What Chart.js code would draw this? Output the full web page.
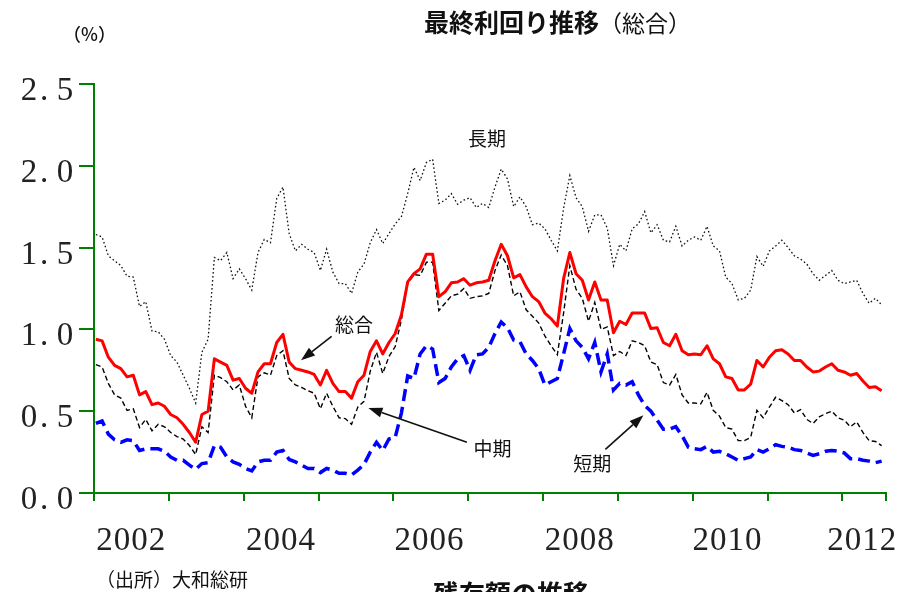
<!DOCTYPE html>
<html lang="ja">
<head>
<meta charset="utf-8">
<title>最終利回り推移（総合）</title>
<script src="https://cdn.jsdelivr.net/npm/chart.js@4.4.1/dist/chart.umd.min.js"></script>
<style>
  html,body{margin:0;padding:0;background:#fff;overflow:hidden}
  #wrap{position:relative;width:913px;height:592px;font-family:"Noto Sans CJK JP",sans-serif;color:#111}
  #wrap canvas{position:absolute;left:0;top:0}
  .txt{position:absolute;white-space:nowrap;line-height:1}
  #title{left:424px;top:9px;font-size:25px}
  #title b{font-weight:700}
  #title span{font-weight:400;font-size:23px}
  #unit{left:63px;top:24px;font-size:18px;font-weight:500}
  #source{left:96px;top:569px;font-size:19px}
  #next{left:433px;top:580px;font-size:26px;font-weight:700}
</style>
</head>
<body>
<div id="wrap">
  <canvas id="chart" width="913" height="592"></canvas>
  <div class="txt" id="title"><b>最終利回り推移</b><span>（総合）</span></div>
  <div class="txt" id="unit">（%）</div>
  <div class="txt" id="source">（出所）大和総研</div>
  <div class="txt" id="next">残存額の推移</div>
</div>
<script>
// 月次データ 2002年1月〜2012年7月 (%)
const yieldTotal = [
  0.94,0.93,0.83,0.78,0.76,0.71,0.72,0.60,0.62,0.54,
  0.55,0.53,0.48,0.46,0.42,0.37,0.31,0.48,0.50,0.82,
  0.80,0.78,0.69,0.70,0.64,0.61,0.74,0.79,0.79,0.92,
  0.97,0.80,0.76,0.75,0.74,0.725,0.66,0.75,0.67,0.62,
  0.62,0.58,0.68,0.72,0.865,0.93,0.85,0.92,0.975,1.09,
  1.29,1.34,1.37,1.46,1.46,1.20,1.23,1.285,1.29,1.31,
  1.27,1.285,1.29,1.30,1.42,1.52,1.45,1.315,1.335,1.26,
  1.20,1.17,1.10,1.065,1.02,1.31,1.47,1.34,1.30,1.18,
  1.29,1.18,1.18,0.98,1.05,1.03,1.10,1.10,1.10,1.005,
  1.01,0.92,0.90,0.97,0.87,0.845,0.85,0.845,0.90,0.82,
  0.79,0.71,0.70,0.63,0.63,0.665,0.81,0.77,0.83,0.87,
  0.875,0.85,0.81,0.81,0.77,0.74,0.745,0.77,0.79,0.75,
  0.74,0.72,0.73,0.685,0.645,0.65,0.625
];
const yieldMid = [
  0.785,0.77,0.67,0.60,0.58,0.505,0.515,0.40,0.45,0.38,
  0.42,0.405,0.37,0.345,0.33,0.29,0.235,0.405,0.37,0.72,
  0.705,0.68,0.63,0.66,0.53,0.46,0.71,0.735,0.72,0.84,
  0.87,0.70,0.66,0.645,0.625,0.61,0.515,0.61,0.53,0.46,
  0.455,0.42,0.525,0.56,0.745,0.86,0.73,0.835,0.895,1.06,
  1.28,1.335,1.33,1.41,1.41,1.115,1.16,1.205,1.215,1.25,
  1.19,1.20,1.205,1.22,1.36,1.455,1.39,1.205,1.23,1.12,
  1.08,1.04,0.96,0.90,0.845,1.10,1.39,1.245,1.19,1.05,
  1.165,1.00,1.015,0.84,0.865,0.84,0.93,0.92,0.90,0.80,
  0.785,0.675,0.66,0.725,0.60,0.55,0.55,0.545,0.615,0.505,
  0.47,0.40,0.39,0.32,0.32,0.34,0.505,0.46,0.525,0.585,
  0.565,0.54,0.49,0.51,0.45,0.425,0.465,0.485,0.50,0.46,
  0.445,0.405,0.435,0.37,0.32,0.315,0.29
];
const yieldShort = [
  0.425,0.44,0.36,0.325,0.31,0.325,0.32,0.26,0.27,0.27,
  0.27,0.255,0.22,0.20,0.20,0.17,0.145,0.18,0.185,0.29,
  0.28,0.22,0.19,0.175,0.15,0.135,0.19,0.20,0.20,0.25,
  0.26,0.205,0.19,0.17,0.15,0.15,0.125,0.15,0.14,0.12,
  0.12,0.11,0.14,0.175,0.25,0.31,0.26,0.33,0.34,0.49,
  0.715,0.70,0.85,0.90,0.88,0.675,0.70,0.77,0.82,0.84,
  0.75,0.845,0.85,0.89,0.975,1.045,1.01,0.935,0.925,0.85,
  0.81,0.76,0.66,0.68,0.70,0.85,1.005,0.93,0.89,0.82,
  0.92,0.74,0.85,0.63,0.67,0.66,0.68,0.60,0.535,0.50,
  0.445,0.39,0.39,0.405,0.35,0.28,0.27,0.265,0.285,0.25,
  0.255,0.24,0.22,0.20,0.21,0.22,0.265,0.25,0.27,0.295,
  0.285,0.28,0.265,0.26,0.245,0.23,0.24,0.255,0.26,0.255,
  0.245,0.21,0.21,0.20,0.195,0.185,0.195
];
const yieldLong = [
  1.58,1.565,1.45,1.42,1.39,1.325,1.32,1.14,1.17,0.99,
  0.985,0.94,0.84,0.80,0.72,0.64,0.55,0.86,0.94,1.44,
  1.42,1.47,1.31,1.37,1.31,1.24,1.47,1.55,1.53,1.80,
  1.87,1.585,1.48,1.52,1.49,1.47,1.36,1.49,1.35,1.28,
  1.28,1.22,1.35,1.40,1.53,1.61,1.525,1.585,1.645,1.69,
  1.83,1.99,1.91,2.02,2.04,1.77,1.79,1.83,1.765,1.79,
  1.805,1.745,1.77,1.745,1.87,1.98,1.92,1.75,1.81,1.75,
  1.64,1.65,1.615,1.545,1.48,1.74,1.94,1.805,1.75,1.60,
  1.70,1.70,1.62,1.39,1.52,1.48,1.615,1.645,1.72,1.59,
  1.64,1.545,1.535,1.63,1.51,1.545,1.565,1.545,1.63,1.51,
  1.48,1.32,1.28,1.18,1.19,1.24,1.445,1.385,1.48,1.51,
  1.545,1.50,1.45,1.43,1.40,1.34,1.30,1.33,1.36,1.30,
  1.28,1.29,1.30,1.22,1.16,1.19,1.15
];

// 軸 (x = 2002年1月からの月数)
const yTicks = [0, 0.5, 1.0, 1.5, 2.0, 2.5];
const yearTicks = [-0.3, 11.7, 23.7, 35.7, 47.7, 59.7, 71.7, 83.7, 95.7, 107.7, 119.7, 126.7];
const yearLabels = ['2002', '2004', '2006', '2008', '2010', '2012'];
const yearLabelPos = [5.6, 29.6, 53.4, 77.5, 101.2, 122.8];

// 注記 [文字, x(月), y(%)] と矢印 [始点x, 始点y, 先端x, 先端y]
const notes = [['長期', 62.7, 2.168], ['総合', 41.4, 1.03], ['中期', 63.6, 0.27], ['短期', 79.6, 0.178]];
const arrows = [[37.8, 0.958, 32.9, 0.811], [59.5, 0.31, 43.7, 0.52], [81.7, 0.267, 87.8, 0.475]];

const GREEN = '#008000';

function toXY(arr){ return arr.map((v, i) => ({x: i, y: v})); }

const textPlugin = {
  id: 'textPlugin',
  afterDraw(chart){
    const ctx = chart.ctx;
    const xs = chart.scales.x, ys = chart.scales.y;
    ctx.save();
    // 目盛り数字
    ctx.fillStyle = '#222';
    ctx.font = '33px "Liberation Serif", serif';
    ctx.textAlign = 'center';
    ctx.textBaseline = 'alphabetic';
    yTicks.forEach(v => {
      const s = v.toFixed(1);
      const py = ys.getPixelForValue(v) + 16;
      ctx.fillText(s[0], ys.right - 65, py);
      ctx.fillText('.', ys.right - 50, py);
      ctx.fillText(s[2], ys.right - 29, py);
    });
    yearLabels.forEach((s, k) => {
      const cx = xs.getPixelForValue(yearLabelPos[k]);
      const py = xs.top + 57;
      [-26.25, -8.75, 8.75, 26.25].forEach((o, j) => ctx.fillText(s[j], cx + o, py));
    });
    // 注記
    ctx.fillStyle = '#111';
    ctx.font = '19px "Noto Sans CJK JP", sans-serif';
    ctx.textBaseline = 'middle';
    notes.forEach(n => ctx.fillText(n[0], xs.getPixelForValue(n[1]), ys.getPixelForValue(n[2])));
    ctx.strokeStyle = '#111';
    ctx.lineWidth = 1.6;
    arrows.forEach(a => {
      const x1 = xs.getPixelForValue(a[0]), y1 = ys.getPixelForValue(a[1]);
      const x2 = xs.getPixelForValue(a[2]), y2 = ys.getPixelForValue(a[3]);
      const ang = Math.atan2(y2 - y1, x2 - x1);
      const hl = 14, hw = 5;
      const bx = x2 - hl * Math.cos(ang), by = y2 - hl * Math.sin(ang);
      ctx.beginPath(); ctx.moveTo(x1, y1); ctx.lineTo(bx, by); ctx.stroke();
      ctx.beginPath();
      ctx.moveTo(x2, y2);
      ctx.lineTo(bx + hw * Math.sin(ang), by - hw * Math.cos(ang));
      ctx.lineTo(bx - hw * Math.sin(ang), by + hw * Math.cos(ang));
      ctx.closePath(); ctx.fill();
    });
    ctx.restore();
  }
};

new Chart(document.getElementById('chart'), {
  type: 'line',
  data: {
    datasets: [
      {label: '総合', data: toXY(yieldTotal), borderColor: '#ff0000', borderWidth: 3, pointRadius: 0, tension: 0, borderJoinStyle: 'round'},
      {label: '中期', data: toXY(yieldMid), borderColor: '#000', borderWidth: 1.4, borderDash: [5, 3], pointRadius: 0, tension: 0},
      {label: '短期', data: toXY(yieldShort), borderColor: '#0000ff', borderWidth: 3.5, borderDash: [12, 6], pointRadius: 0, tension: 0},
      {label: '長期', data: toXY(yieldLong), borderColor: '#111', borderWidth: 1.3, borderDash: [1.6, 2.4], pointRadius: 0, tension: 0}
    ]
  },
  options: {
    responsive: false,
    devicePixelRatio: 1,
    animation: false,
    events: [],
    layout: {padding: {left: 0, top: 84, right: 27, bottom: 0}},
    plugins: {legend: {display: false}, tooltip: {enabled: false}, title: {display: false}},
    scales: {
      x: {
        type: 'linear',
        min: -0.3,
        max: 126.7,
        afterBuildTicks: s => { s.ticks = yearTicks.map(v => ({value: v})); },
        afterFit: s => { s.height = 99; },
        ticks: {autoSkip: false, callback: () => ''},
        grid: {drawOnChartArea: false, drawTicks: true, tickLength: 8, color: GREEN, lineWidth: 2},
        border: {color: GREEN, width: 2}
      },
      y: {
        min: 0,
        max: 2.5,
        afterFit: s => { s.width = 94; },
        ticks: {stepSize: 0.5, callback: () => ''},
        grid: {drawOnChartArea: false, drawTicks: true, tickLength: 15, color: GREEN, lineWidth: 2},
        border: {color: GREEN, width: 2}
      }
    }
  },
  plugins: [textPlugin]
});
</script>
</body>
</html>
